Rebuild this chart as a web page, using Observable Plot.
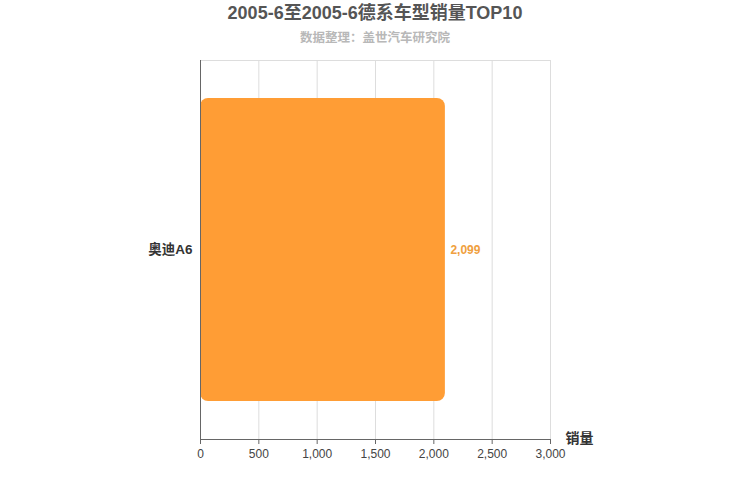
<!DOCTYPE html>
<html>
<head>
<meta charset="utf-8">
<script src="https://cdn.jsdelivr.net/npm/d3@7"></script>
<script src="https://cdn.jsdelivr.net/npm/@observablehq/plot@0.6"></script>
<style>
  body { margin: 0; background: #fff; font-family: "Liberation Sans", Arial, "Noto Sans CJK SC", sans-serif; }
  #wrap { width: 750px; }
  .title { text-align: center; font-size: 18px; font-weight: bold; color: #555; height: 26px; line-height: 26px; }
  .subtitle { text-align: center; font-size: 12.5px; font-weight: bold; color: #b8b8b8; height: 24px; line-height: 24px; }
</style>
</head>
<body>
<div id="wrap">
  <div class="title">2005-6至2005-6德系车型销量TOP10</div>
  <div class="subtitle">数据整理：盖世汽车研究院</div>
  <div id="chart"></div>
</div>
<script>
const models = ["奥迪A6"];
const sales = [2099];
const xTicks = [0, 500, 1000, 1500, 2000, 2500, 3000];
const axisName = ["销量"];

const data = models.map((m, i) => ({model: m, value: sales[i]}));
const fmt = d3.format(",");

const chart = Plot.plot({
  width: 750,
  height: 450,
  marginTop: 10,
  marginBottom: 61,
  marginLeft: 200,
  marginRight: 200,
  style: { fontFamily: "'Liberation Sans', Arial, 'Noto Sans CJK SC', sans-serif", background: "#fff" },
  x: { domain: [0, 3000] },
  y: { domain: models, paddingInner: 0.2, paddingOuter: 0.1 },
  marks: [
    Plot.frame({ stroke: "#ddd" }),
    Plot.gridX(xTicks, { stroke: "#ddd", strokeOpacity: 1 }),
    Plot.barX(data, { x: "value", y: "model", fill: "#FF9D35", rx: 8 }),
    Plot.text(data, { x: "value", y: "model", text: d => fmt(d.value), dx: 5, textAnchor: "start", fill: "#F0A040", fontSize: 12, fontWeight: "bold" }),
    Plot.axisX(xTicks, { tickFormat: fmt, tickSize: 5, stroke: "#666", fill: "#444", fontSize: 12, label: null, tickPadding: 5 }),
    Plot.frame({ anchor: "bottom", stroke: "#666" }),
    Plot.frame({ anchor: "left", stroke: "#666" }),
    Plot.axisY({ tickSize: 0, tickPadding: 8, fill: "#333", fontSize: 13.5, fontWeight: "bold", label: null }),
    Plot.text(axisName, { frameAnchor: "bottom-right", text: d => d, dx: 15, dy: 3, textAnchor: "start", fontSize: 14, fontWeight: "bold", fill: "#333" })
  ]
});
document.getElementById("chart").appendChild(chart);
</script>
</body>
</html>
